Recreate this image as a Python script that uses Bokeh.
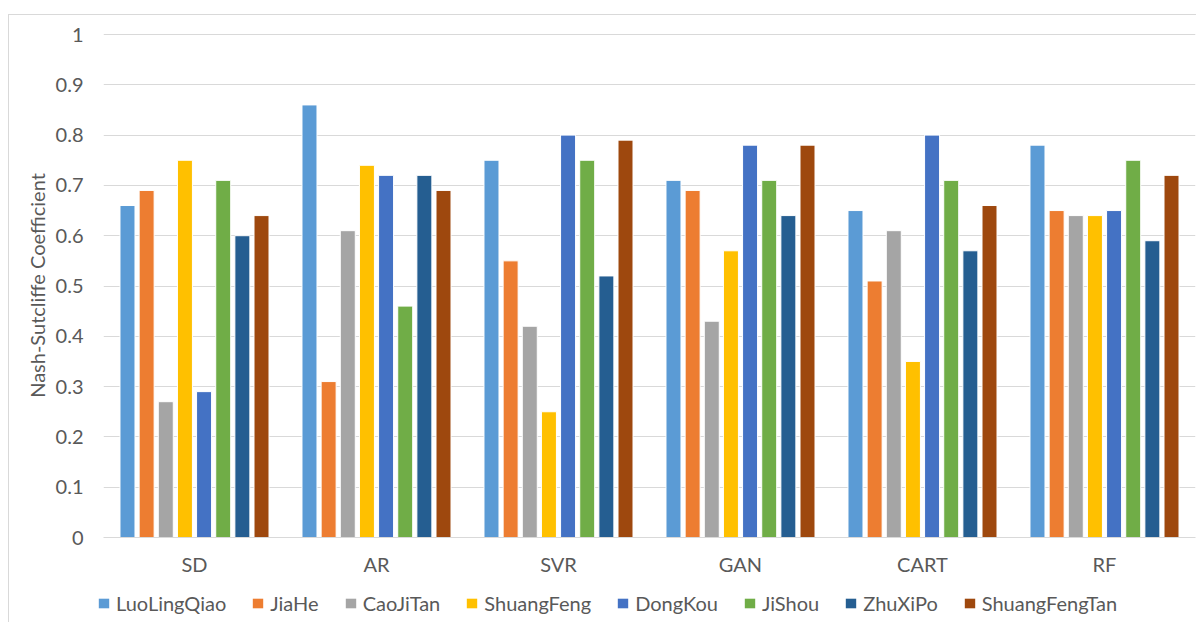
from bokeh.plotting import figure
from bokeh.layouts import column
from bokeh.models import (FactorRange, Range1d, Legend, LegendItem,
                          ColumnDataSource, FixedTicker, NumeralTickFormatter)
from bokeh.transform import dodge
from bokeh.embed import file_html
from bokeh.resources import INLINE

models = ["SD", "AR", "SVR", "GAN", "CART", "RF"]
stations = ["LuoLingQiao", "JiaHe", "CaoJiTan", "ShuangFeng",
            "DongKou", "JiShou", "ZhuXiPo", "ShuangFengTan"]

LuoLingQiao = [0.66, 0.86, 0.75, 0.71, 0.65, 0.78]
JiaHe = [0.69, 0.31, 0.55, 0.69, 0.51, 0.65]
CaoJiTan = [0.27, 0.61, 0.42, 0.43, 0.61, 0.64]
ShuangFeng = [0.75, 0.74, 0.25, 0.57, 0.35, 0.64]
DongKou = [0.29, 0.72, 0.80, 0.78, 0.80, 0.65]
JiShou = [0.71, 0.46, 0.75, 0.71, 0.71, 0.75]
ZhuXiPo = [0.60, 0.72, 0.52, 0.64, 0.57, 0.59]
ShuangFengTan = [0.64, 0.69, 0.79, 0.78, 0.66, 0.72]

y_ticks = [0, 0.1, 0.2, 0.3, 0.4, 0.5, 0.6, 0.7, 0.8, 0.9, 1]
y_label = "Nash-Sutcliffe Coefficient"

colors = ["#5B9BD5", "#ED7D31", "#A5A5A5", "#FFC000",
          "#4472C4", "#70AD47", "#255E91", "#9E480E"]

series = [LuoLingQiao, JiaHe, CaoJiTan, ShuangFeng, DongKou, JiShou, ZhuXiPo, ShuangFengTan]
data = {"model": models}
for name, vals in zip(stations, series):
    data[name] = vals
source = ColumnDataSource(data)

FONT = "Lato"
TXT = "#595959"
GRID = "#D9D9D9"
FS = "20px"

H_MAIN = 585
p = figure(x_range=FactorRange(*models), y_range=Range1d(0, 1.002),
           width=1196, height=H_MAIN, output_backend="svg", toolbar_location=None,
           min_border_left=103, min_border_right=1, min_border_top=33,
           min_border_bottom=H_MAIN - 537)

p.outline_line_color = None
p.xgrid.grid_line_color = None
p.ygrid.grid_line_color = GRID
p.ygrid.grid_line_width = 1

p.yaxis.ticker = FixedTicker(ticks=y_ticks)
p.yaxis.formatter = NumeralTickFormatter(format="0.[0]")
p.yaxis.axis_line_color = None
p.yaxis.major_tick_line_color = None
p.yaxis.minor_tick_line_color = None
p.yaxis.major_label_standoff = 14
p.yaxis.major_label_text_font = FONT
p.yaxis.major_label_text_font_size = FS
p.yaxis.major_label_text_color = TXT
p.yaxis.axis_label = y_label
p.yaxis.axis_label_text_font = FONT
p.yaxis.axis_label_text_font_size = FS
p.yaxis.axis_label_text_font_style = "normal"
p.yaxis.axis_label_text_color = TXT
p.yaxis.axis_label_standoff = 4

p.xaxis.axis_line_color = GRID
p.xaxis.major_tick_line_color = None
p.xaxis.minor_tick_line_color = None
p.xaxis.major_label_standoff = 8
p.xaxis.major_label_text_font = FONT
p.xaxis.major_label_text_font_size = FS
p.xaxis.major_label_text_color = TXT

stride = 0.1052
bar_w = 0.0824
n = len(stations)
offsets = [(i - (n - 1) / 2) * stride for i in range(n)]
for name, col, off in zip(stations, colors, offsets):
    p.vbar(x=dodge("model", off, range=p.x_range), top=name, width=bar_w,
           source=source, fill_color=col, line_color="white", line_width=1)

# legend strip below the chart (its bars lie outside its view; they only feed the legend)
H_LEG = 622 - H_MAIN
q = figure(x_range=FactorRange(*models), y_range=Range1d(2, 3), width=1196, height=H_LEG,
           output_backend="svg", toolbar_location=None,
           min_border_left=103, min_border_right=1, min_border_top=0, min_border_bottom=0)
q.axis.visible = False
q.grid.visible = False
q.outline_line_color = None
items = []
for name, col, off in zip(stations, colors, offsets):
    r = q.vbar(x=dodge("model", off, range=q.x_range), top=name, width=bar_w,
               source=source, fill_color=col, line_color=None)
    items.append(LegendItem(label=name, renderers=[r]))

legend = Legend(items=items, orientation="horizontal", location=(0, 7),
                glyph_width=13, glyph_height=12, label_standoff=6, spacing=25,
                padding=0, margin=0, border_line_color=None, background_fill_alpha=0,
                label_text_font=FONT, label_text_font_size=FS, label_text_color=TXT)
q.add_layout(legend, "center")
q.stylesheets = [":host { transform: translateX(-6px); }"]

layout = column(p, q, spacing=0)
layout.stylesheets = [":host::after { content: ''; position: absolute; left: 8px; top: 14px; "
                      "width: 1300px; height: 607px; border: 1px solid #D9D9D9; pointer-events: none; }"]

open("out.html", "w").write(file_html(layout, INLINE))
